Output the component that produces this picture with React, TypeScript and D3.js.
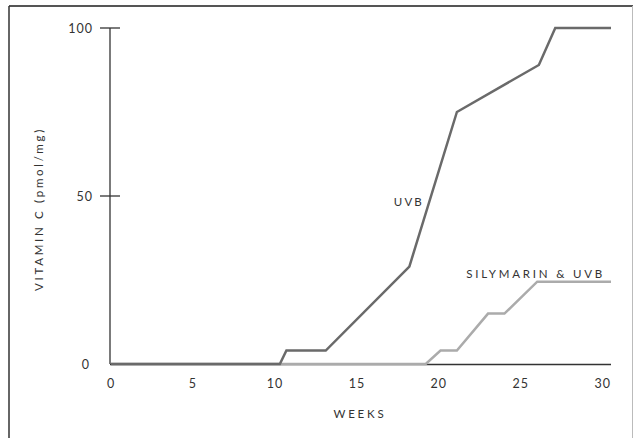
import React from "react";
import * as d3 from "d3";

const xTicks = [0, 5, 10, 15, 20, 25, 30];
const yTicks = [0, 50, 100];
const uvbWeeks = [0, 10.3, 10.7, 13.1, 18.2, 21.1, 26.1, 27.1, 30.5];
const uvbValues = [0, 0, 4, 4, 29, 75, 89, 100, 100];
const silyWeeks = [0, 19.2, 20.1, 21.1, 23, 24, 26, 30.5];
const silyValues = [0, 0, 4, 4, 15, 15, 24.5, 24.5];

const W = 634;
const H = 438;
const FONT = "Lato, 'Open Sans', sans-serif";

export default function App() {
  const x = d3.scaleLinear().domain([0, 30.5]).range([111, 611]);
  const y = d3.scaleLinear().domain([0, 100]).range([364, 28]);
  const line = d3
    .line<[number, number]>()
    .x((d) => x(d[0]))
    .y((d) => y(d[1]));
  const uvb = uvbWeeks.map((w, i) => [w, uvbValues[i]] as [number, number]);
  const sily = silyWeeks.map((w, i) => [w, silyValues[i]] as [number, number]);
  const x0 = x(0) - 1;

  return (
    <svg
      width={W}
      height={H}
      style={{ position: "absolute", left: 0, top: 0, background: "#fff" }}
      fontFamily={FONT}
    >
      {/* frame */}
      <line x1={9} y1={6} x2={633} y2={6} stroke="#555" strokeWidth={2} />
      <line x1={9} y1={6} x2={9} y2={H} stroke="#333" strokeWidth={1.5} />
      <line x1={632.5} y1={6} x2={632.5} y2={H} stroke="#bbb" strokeWidth={1} />

      {/* y axis */}
      <line x1={x0} y1={y(100)} x2={x0} y2={y(0)} stroke="#333" strokeWidth={1.3} />
      {yTicks
        .filter((t) => t > 0)
        .map((t) => (
          <line key={t} x1={x0 - 10} x2={x0 + 10} y1={y(t)} y2={y(t)} stroke="#333" strokeWidth={1.3} />
        ))}
      {yTicks.map((t) => (
        <text
          key={t}
          x={t === 0 ? 90 : 93}
          y={y(t)}
          dy="0.36em"
          textAnchor="end"
          fontSize={12.5}
          fill="#333"
          letterSpacing={1}
        >
          {t}
        </text>
      ))}

      {/* x axis */}
      <line x1={x0} y1={y(0) + 0.5} x2={x(30.5)} y2={y(0) + 0.5} stroke="#333" strokeWidth={1.5} />
      {xTicks.map((t) => (
        <text key={t} x={x(t)} y={388} textAnchor="middle" fontSize={12.5} fill="#333" letterSpacing={1}>
          {t}
        </text>
      ))}

      {/* series */}
      <path d={line(sily) || ""} fill="none" stroke="#ababab" strokeWidth={2.5} strokeLinejoin="miter" />
      <path d={line(uvb) || ""} fill="none" stroke="#6a6a6a" strokeWidth={2.5} strokeLinejoin="miter" />

      {/* labels */}
      <text x={424} y={206} textAnchor="end" fontSize={11.5} fill="#333" letterSpacing={2.2}>
        UVB
      </text>
      <text x={605} y={278} textAnchor="end" fontSize={11.5} fill="#333" letterSpacing={2.8}>
        SILYMARIN &amp; UVB
      </text>
      <text x={360} y={418} textAnchor="middle" fontSize={11.5} fill="#333" letterSpacing={2.8}>
        WEEKS
      </text>
      <text
        transform="translate(39,209) rotate(-90)"
        textAnchor="middle"
        dy="0.36em"
        fontSize={11.5}
        fill="#333"
        letterSpacing={2.7}
      >
        VITAMIN C (pmol/mg)
      </text>
    </svg>
  );
}
